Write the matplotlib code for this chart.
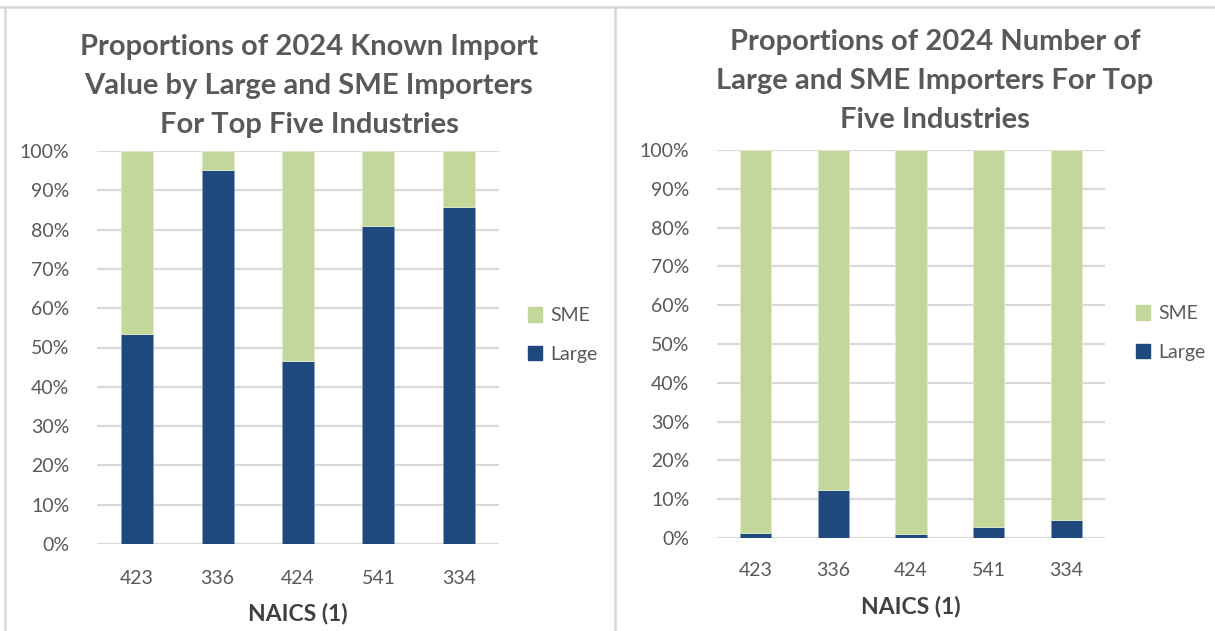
import matplotlib.pyplot as plt
from matplotlib.patches import Patch
from matplotlib.lines import Line2D

plt.rcParams['font.family'] = ['Lato', 'DejaVu Sans']

# NAICS codes and share of Large importers (percent); SME is the rest
naics = ['423', '336', '424', '541', '334']
value_large = [53.5, 95.2, 46.6, 80.9, 85.8]
count_large = [1.2, 12.3, 1.0, 2.8, 4.6]

value_sme = [100 - v for v in value_large]
count_sme = [100 - v for v in count_large]

large_color = '#1F497D'
sme_color = '#C4D79B'
grey_text = '#595959'

W, H = 1215, 631
fig = plt.figure(figsize=(W / 100, H / 100), dpi=100)


def px_axes(x0, y0, x1, y1):
    # pixel box (top-left origin) -> figure axes
    return fig.add_axes([x0 / W, 1 - y1 / H, (x1 - x0) / W, (y1 - y0) / H])


def draw(ax, large, sme, title, tx, ty, legend_xy, xpad, lpad):
    x = range(len(naics))
    ax.bar(x, large, width=0.4, color=large_color, edgecolor='#8EA3BE', linewidth=0.6, zorder=3)
    ax.bar(x, sme, width=0.4, bottom=large, color=sme_color, edgecolor='#E2EBCD', linewidth=0.6, zorder=3)
    ax.set_xlim(-0.5, 4.5)
    ax.set_ylim(0, 100)
    ax.set_yticks(range(0, 101, 10))
    ax.set_yticklabels([f'{t}%' for t in range(0, 101, 10)])
    ax.set_xticks(list(x))
    ax.set_xticklabels(naics)
    ax.grid(axis='y', color='#D9D9D9', linewidth=1.6, zorder=0)
    for s in ax.spines.values():
        s.set_visible(False)
    ax.tick_params(length=0, labelsize=14, labelcolor=grey_text)
    ax.tick_params(axis='y', pad=20)
    ax.tick_params(axis='x', pad=xpad)
    ax.set_xlabel('NAICS (1)', fontsize=16.5, fontweight='bold', color='#404040', labelpad=lpad)
    fig.text(tx / W, 1 - ty / H, title, ha='center', va='top', fontsize=21,
             fontweight='bold', color=grey_text, linespacing=1.62)
    handles = [Patch(color=sme_color, label='SME'), Patch(color=large_color, label='Large')]
    ax.legend(handles=handles, loc='center left', bbox_to_anchor=(legend_xy[0] / W, 1 - legend_xy[1] / H),
              bbox_transform=fig.transFigure, frameon=False, fontsize=14, labelcolor=grey_text,
              handlelength=0.75, handleheight=0.75, handletextpad=0.4, labelspacing=1.1)


ax1 = px_axes(97, 151, 499, 544)
draw(ax1, value_large, value_sme,
     'Proportions of 2024 Known Import\nValue by Large and SME Importers\nFor Top Five Industries',
     309, 34, (510, 335), 19, 11)

ax2 = px_axes(717, 150, 1105, 538)
draw(ax2, count_large, count_sme,
     'Proportions of 2024 Number of\nLarge and SME Importers For Top\nFive Industries',
     935, 29, (1118, 333), 17, 12)

# panel borders
border = dict(color='#D9D9D9', linewidth=1.8, transform=fig.transFigure)
fig.add_artist(Line2D([0, 1], [1 - 7 / H, 1 - 7 / H], **border))
fig.add_artist(Line2D([5 / W, 5 / W], [0, 1 - 7 / H], **border))
fig.add_artist(Line2D([615 / W, 615 / W], [0, 1 - 7 / H], **border))

fig.savefig('out.png', dpi=100)
